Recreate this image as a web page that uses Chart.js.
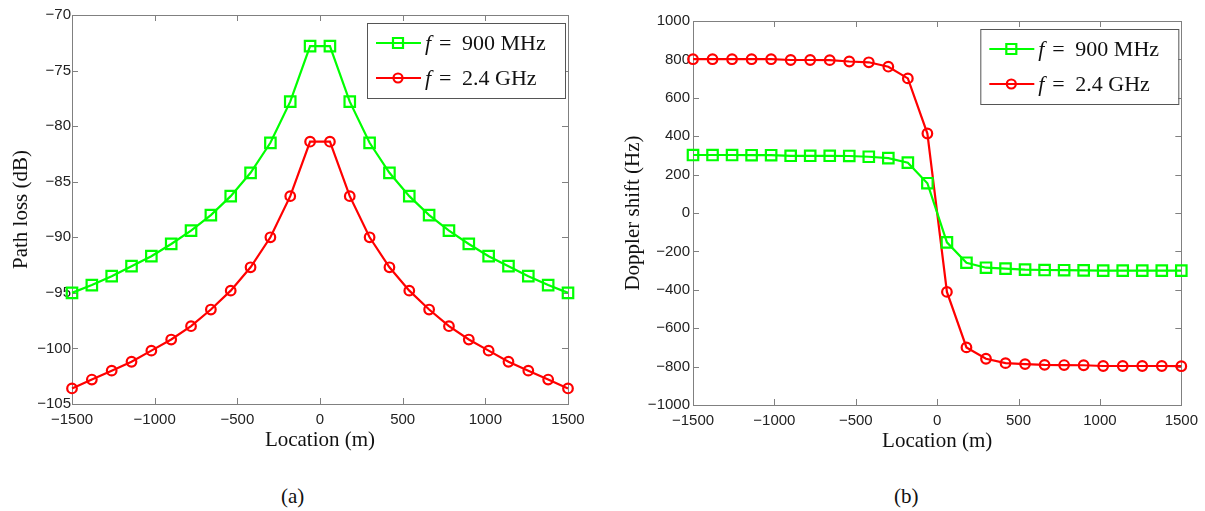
<!DOCTYPE html>
<html lang="en">
<head>
    <meta charset="UTF-8">
    <title>Path loss and Doppler shift</title>
    <script src="https://cdn.jsdelivr.net/npm/chart.js"></script>
    <style>
        body { margin: 0; background: #fff; }
        #page { position: relative; width: 1205px; height: 511px; overflow: hidden; }
        .panel { position: absolute; top: 0; }
        .caption { position: absolute; top: 484px; font: 21px "Liberation Serif", serif; color: #111; }
    </style>
</head>
<body>
<div id="page">
    <div class="panel" style="left:0"><canvas id="lossChart" width="600" height="470"></canvas></div>
    <div class="panel" style="left:600px"><canvas id="dopplerChart" width="605" height="470"></canvas></div>
    <div class="caption" style="left:281px">(a)</div>
    <div class="caption" style="left:894px">(b)</div>
</div>

<script>
    // vị trí (m)
    const location_m = [-1500, -1380, -1260, -1140, -1020, -900, -780, -660, -540, -420, -300, -180, -60,
                        60, 180, 300, 420, 540, 660, 780, 900, 1020, 1140, 1260, 1380, 1500];

    // path loss (dB)
    const loss900 = [-95.0, -94.3, -93.5, -92.6, -91.7, -90.6, -89.4, -88.0, -86.3, -84.2, -81.5, -77.8, -72.8,
                     -72.8, -77.8, -81.5, -84.2, -86.3, -88.0, -89.4, -90.6, -91.7, -92.6, -93.5, -94.3, -95.0];
    const loss2400 = [-103.6, -102.8, -102.0, -101.2, -100.2, -99.2, -98.0, -96.5, -94.8, -92.7, -90.0, -86.3, -81.4,
                      -81.4, -86.3, -90.0, -92.7, -94.8, -96.5, -98.0, -99.2, -100.2, -101.2, -102.0, -102.8, -103.6];

    // doppler shift (Hz)
    const doppler900 = [302, 302, 302, 301, 301, 298, 298, 298, 297, 293, 286, 262, 155,
                        -153, -259, -285, -290, -295, -297, -298, -299, -300, -300, -300, -300, -300];
    const doppler2400 = [801, 801, 801, 801, 801, 797, 797, 796, 789, 785, 762, 701, 414,
                         -411, -700, -759, -782, -787, -791, -792, -793, -797, -797, -797, -797, -798];

    const legendLabels = ['900 MHz', '2.4 GHz'];
    const xTicks = { min: -1500, max: 1500, step: 500 };

    const GREEN = '#00ff00';
    const RED = '#ff0000';
    const FRAME = '#808080';

    function pairs(ys) {
        return location_m.map((x, i) => ({ x: x, y: ys[i] }));
    }

    function minusSign(v) {
        return String(v).replace('-', '\u2212');
    }

    // khung + vạch chia hướng vào trong (kiểu MATLAB)
    const framePlugin = {
        id: 'frame',
        beforeDatasetsDraw(chart) {
            const { ctx, chartArea: a, scales } = chart;
            const len = 6;
            ctx.save();
            ctx.strokeStyle = FRAME;
            ctx.lineWidth = 1;
            ctx.beginPath();
            scales.x.ticks.forEach(t => {
                const px = Math.round(scales.x.getPixelForValue(t.value)) + 0.5;
                ctx.moveTo(px, a.bottom); ctx.lineTo(px, a.bottom - len);
                ctx.moveTo(px, a.top); ctx.lineTo(px, a.top + len);
            });
            scales.y.ticks.forEach(t => {
                const py = Math.round(scales.y.getPixelForValue(t.value)) + 0.5;
                ctx.moveTo(a.left, py); ctx.lineTo(a.left + len, py);
                ctx.moveTo(a.right, py); ctx.lineTo(a.right - len, py);
            });
            ctx.stroke();
            ctx.strokeRect(Math.round(a.left) + 0.5, Math.round(a.top) + 0.5,
                Math.round(a.right - a.left), Math.round(a.bottom - a.top));
            ctx.restore();
        }
    };

    // chú thích trong khung, góc trên phải
    const legendPlugin = {
        id: 'boxLegend',
        afterDraw(chart) {
            const { ctx, chartArea: a } = chart;
            const w = 198, h = 75;
            const left = a.right - w - 3, top = a.top + 8;
            ctx.save();
            ctx.fillStyle = '#fff';
            ctx.fillRect(left, top, w, h);
            ctx.strokeStyle = '#555';
            ctx.lineWidth = 1;
            ctx.strokeRect(left + 0.5, top + 0.5, w, h);

            chart.data.datasets.forEach((ds, i) => {
                const y = top + 20 + i * 35;
                ctx.strokeStyle = ds.borderColor;
                ctx.lineWidth = 2.2;
                ctx.beginPath();
                ctx.moveTo(left + 9, y); ctx.lineTo(left + 54, y);
                ctx.stroke();
                const mx = left + 31;
                ctx.beginPath();
                if (ds.pointStyle === 'rect') ctx.rect(mx - 5, y - 5, 10, 10);
                else ctx.arc(mx, y, 4.5, 0, Math.PI * 2);
                ctx.stroke();

                ctx.fillStyle = '#111';
                ctx.textBaseline = 'middle';
                const tx = left + 58;
                ctx.font = 'italic 22px "Liberation Serif"';
                ctx.fillText('f', tx, y + 1);
                ctx.font = '22px "Liberation Serif"';
                ctx.fillText('=', tx + 14, y + 1);
                ctx.fillText(legendLabels[i], tx + 37, y + 1);
            });
            ctx.restore();
        }
    };

    function makeChart(id, series, yOpts, box) {
        return new Chart(id, {
            type: 'line',
            data: {
                datasets: [{
                    data: pairs(series[0]),
                    borderColor: GREEN,
                    borderWidth: 2.2,
                    pointStyle: 'rect',
                    pointRadius: 7.4,
                    pointBorderWidth: 2.2,
                    pointBackgroundColor: 'rgba(0,0,0,0)',
                    pointBorderColor: GREEN,
                    clip: false
                }, {
                    data: pairs(series[1]),
                    borderColor: RED,
                    borderWidth: 2.2,
                    pointStyle: 'circle',
                    pointRadius: 4.8,
                    pointBorderWidth: 2.2,
                    pointBackgroundColor: 'rgba(0,0,0,0)',
                    pointBorderColor: RED,
                    clip: false
                }]
            },
            options: {
                responsive: false,
                animation: false,
                devicePixelRatio: 1,
                layout: { padding: { top: box.top, right: box.right, left: 0, bottom: 0 } },
                plugins: { legend: { display: false }, tooltip: { enabled: false } },
                elements: { line: { tension: 0 } },
                scales: {
                    x: {
                        type: 'linear',
                        min: xTicks.min,
                        max: xTicks.max,
                        afterFit: s => { s.height = box.xHeight; },
                        grid: { display: false, drawTicks: false },
                        border: { display: false },
                        ticks: {
                            stepSize: xTicks.step,
                            autoSkip: false,
                            maxRotation: 0,
                            padding: 7,
                            color: '#222',
                            font: { family: 'Liberation Sans', size: 15 },
                            callback: minusSign
                        },
                        title: {
                            display: true,
                            text: 'Location (m)',
                            color: '#111',
                            font: { family: 'Liberation Serif', size: 21 },
                            padding: { top: 0, bottom: box.xTitlePad }
                        }
                    },
                    y: {
                        min: yOpts.min,
                        max: yOpts.max,
                        afterFit: s => { s.width = box.yWidth; },
                        grid: { display: false, drawTicks: false },
                        border: { display: false },
                        ticks: {
                            stepSize: yOpts.step,
                            autoSkip: false,
                            padding: box.yTickPad,
                            color: '#222',
                            font: { family: 'Liberation Sans', size: 15 },
                            callback: minusSign
                        },
                        title: {
                            display: true,
                            text: yOpts.title,
                            color: '#111',
                            font: { family: 'Liberation Serif', size: 21 },
                            padding: { top: box.yTitlePad, bottom: 0 }
                        }
                    }
                }
            },
            plugins: [framePlugin, legendPlugin]
        });
    }

    // (a) path loss
    makeChart('lossChart', [loss900, loss2400],
        { min: -105, max: -70, step: 5, title: 'Path loss (dB)' },
        { top: 15, right: 32, xHeight: 66, yWidth: 72, xTitlePad: 17, yTitlePad: 9, yTickPad: 1 });

    // (b) doppler shift
    makeChart('dopplerChart', [doppler900, doppler2400],
        { min: -1000, max: 1000, step: 200, title: 'Doppler shift (Hz)' },
        { top: 21, right: 23, xHeight: 65, yWidth: 93, xTitlePad: 16, yTitlePad: 21, yTickPad: 3 });
</script>
</body>
</html>
